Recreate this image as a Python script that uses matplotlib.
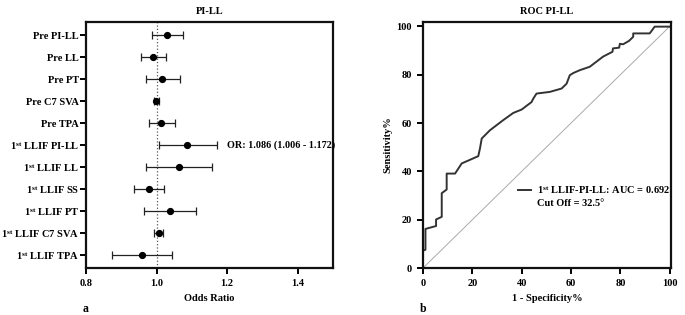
import matplotlib
matplotlib.use('Agg')
import matplotlib.pyplot as plt
from matplotlib.lines import Line2D

plt.rcParams['font.family'] = ['Liberation Serif', 'DejaVu Serif']
plt.rcParams['font.weight'] = 'bold'
plt.rcParams['mathtext.fontset'] = 'custom'
plt.rcParams['mathtext.rm'] = 'Liberation Serif:bold'
plt.rcParams['mathtext.it'] = 'Liberation Serif:bold'
plt.rcParams['mathtext.bf'] = 'Liberation Serif:bold'
plt.rcParams['font.size'] = 7.5

# forest plot data
labels = ['Pre PI-LL', 'Pre LL', 'Pre PT', 'Pre C7 SVA', 'Pre TPA',
          '1$^{st}$ LLIF PI-LL', '1$^{st}$ LLIF LL', '1$^{st}$ LLIF SS',
          '1$^{st}$ LLIF PT', '1$^{st}$ LLIF C7 SVA', '1$^{st}$ LLIF TPA']
odds = [1.031, 0.990, 1.016, 0.999, 1.013, 1.086, 1.064, 0.978, 1.037, 1.007, 0.959]
ci_lo = [0.988, 0.956, 0.969, 0.992, 0.978, 1.006, 0.971, 0.935, 0.964, 0.992, 0.875]
ci_hi = [1.075, 1.027, 1.066, 1.007, 1.051, 1.172, 1.156, 1.021, 1.111, 1.019, 1.045]
or_note = 'OR: 1.086 (1.006 - 1.172)'

# ROC curve data
fpr = [0, 0, 1.0, 1.0, 5.3, 5.3, 7.6, 7.6, 9.6, 9.6, 13.0, 15.7, 22.4, 23.1,
       23.8, 27.1, 32.5, 36.6, 40.0, 44.0, 44.7, 46.0, 51.4, 56.2, 58.2, 59.5,
       60.9, 63.6, 67.6, 70.3, 73.0, 76.8, 77.0, 79.5, 79.8, 81.1, 83.5, 85.2,
       85.2, 91.9, 93.9, 100]
tpr = [0, 7.2, 7.6, 16.2, 17.4, 20.1, 21.2, 31.0, 32.5, 39.1, 39.1, 43.3, 46.3, 49.5,
       53.6, 57.0, 61.2, 64.2, 65.6, 68.7, 70.1, 72.2, 72.9, 74.3, 76.3, 79.8,
       80.7, 81.9, 83.3, 85.4, 87.5, 89.5, 90.9, 91.2, 92.8, 92.6, 94.0, 95.7,
       97.1, 97.1, 99.9, 99.9]

fig = plt.figure(figsize=(6.85, 3.15), dpi=100)
ax1 = fig.add_axes([0.1255, 0.149, 0.3605, 0.781])
ax2 = fig.add_axes([0.6175, 0.149, 0.362, 0.781])

rows = list(range(len(labels)))
xerr = [[o - l for o, l in zip(odds, ci_lo)], [h - o for o, h in zip(odds, ci_hi)]]
ax1.axvline(1.0, color='#555555', linestyle=':', linewidth=0.9, zorder=1)
ax1.errorbar(odds, rows, xerr=xerr, fmt='o', color='black', ecolor='#222222',
             markersize=4.2, elinewidth=0.9, capsize=2.8, capthick=0.9, zorder=3)
ax1.text(1.2, 5, or_note, va='center', ha='left', fontsize=7.3, fontweight='bold')
ax1.set_yticks(rows)
ax1.set_yticklabels(labels)
ax1.set_ylim(10.6, -0.6)
ax1.set_xlim(0.8, 1.5)
ax1.set_xticks([0.8, 1.0, 1.2, 1.4])
ax1.set_xticklabels(['0.8', '1.0', '1.2', '1.4'])
ax1.set_xlabel('Odds Ratio', fontweight='bold', labelpad=4)
ax1.set_title('PI-LL', fontweight='bold', fontsize=7.5, pad=6)
ax1.text(0.0, -0.14, 'a', transform=ax1.transAxes, fontsize=8.5, fontweight='bold',
         ha='center', va='top')

ax2.plot([0, 100], [0, 100], color='#aaaaaa', linewidth=0.7, zorder=1)
roc, = ax2.plot(fpr, tpr, color='#333333', linewidth=1.4, zorder=2)
ax2.set_xlim(0, 100.5)
ax2.set_ylim(0, 101.8)
ax2.set_xticks([0, 20, 40, 60, 80, 100])
ax2.set_yticks([0, 20, 40, 60, 80, 100])
ax2.set_xlabel('1 - Specificity%', fontweight='bold', labelpad=4)
ax2.set_ylabel('Sensitivity%', fontweight='bold', labelpad=3)
ax2.set_title('ROC PI-LL', fontweight='bold', fontsize=7.5, pad=6)
ax2.text(0.0, -0.14, 'b', transform=ax2.transAxes, fontsize=8.5, fontweight='bold',
         ha='center', va='top')
blank = Line2D([], [], color='none')
ax2.legend([roc, blank], ['1$^{st}$ LLIF-PI-LL: AUC = 0.692', 'Cut Off = 32.5°'],
           loc='upper left', bbox_to_anchor=(0.345, 0.38), frameon=False,
           handlelength=1.3, handletextpad=0.5, labelspacing=0.3,
           prop={'weight': 'bold', 'size': 7.5})

for ax in (ax1, ax2):
    for s in ax.spines.values():
        s.set_linewidth(1.6)
        s.set_color('#111111')
    ax.tick_params(direction='out', length=4, width=1.4, labelsize=7.5, pad=4)
    for t in ax.get_xticklabels() + ax.get_yticklabels():
        t.set_fontweight('bold')
ax1.tick_params(axis='y', pad=1)

fig.savefig('out.png', dpi=100)
